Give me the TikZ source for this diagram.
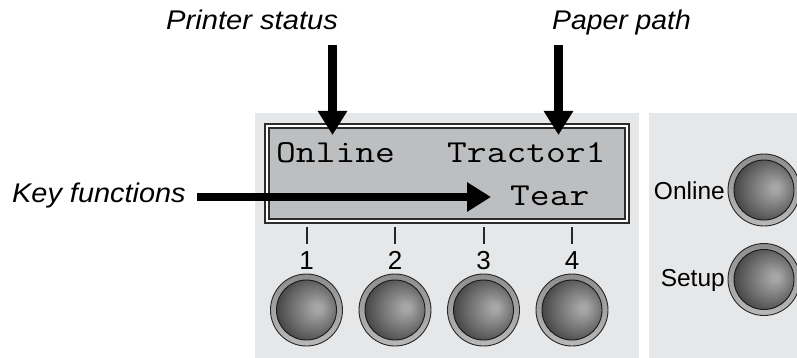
\documentclass[tikz,border=0pt]{standalone}
\usepackage{fontspec}
\setmainfont{Liberation Sans}
\usetikzlibrary{arrows.meta}
\definecolor{panel}{HTML}{E6E7E8}
\definecolor{lcdfill}{HTML}{BDBEC0}
\definecolor{hl}{HTML}{A6A6A6}
\definecolor{midg}{HTML}{6A6A6A}
\definecolor{edgeg}{HTML}{2C2C2C}
\definecolor{ringlo}{HTML}{B8B8B8}
\definecolor{ringhi}{HTML}{8E8E8E}
\pgfdeclareradialshading{btnshade}{\pgfpoint{10bp}{2bp}}{color(0bp)=(hl); color(3bp)=(hl); color(20bp)=(midg); color(36bp)=(edgeg); color(50bp)=(edgeg)}
\newcommand\keybtn[2]{%
  \node[ring] (#1) at (#2) {};
  \shadedraw[shading=btnshade, draw=black!90, line width=0.9pt] (#1.center) circle (30pt);
}
\begin{document}
\begin{tikzpicture}[x=1pt,y=-1pt,
  lbl/.style={font=\fontsize{27}{32}\selectfont\itshape, inner sep=0, anchor=base west},
  side/.style={font=\fontsize{24.5}{29}\selectfont, inner sep=0, anchor=base east},
  num/.style={font=\fontsize{26}{30}\selectfont, inner sep=0, anchor=base},
  lcdtxt/.style={font=\fontsize{32}{38}\ttfamily, inner sep=0, anchor=base west},
  bigarrow/.style={line width=8.5pt, -{Triangle[width=28pt,length=24pt]}},
  tickmark/.style={line width=2pt, black!85},
  ring/.style={circle, minimum size=72pt, inner sep=0, draw=black!85, line width=0.9pt, top color=ringhi, bottom color=ringlo},
]
\useasboundingbox (0,0) rectangle (797,358);
% panels
\fill[panel] (255,113) rectangle (639,358);
\fill[panel] (649,113) rectangle (797,358);
% LCD
\draw[edgeg, line width=1.3pt, fill=white] (265,124) rectangle (629,223);
\draw[edgeg, line width=1.3pt, fill=lcdfill] (269,128) rectangle (625,219);
\node[lcdtxt] (on) at (276,163) {\scalebox{1.2}[1]{Online}};
\node[lcdtxt] (tr) at (447,163) {\scalebox{1.2}[1]{Tractor1}};
\node[lcdtxt] (te) at (510,205) {\scalebox{1.2}[1]{Tear}};
% labels
\node[lbl] (ps) at (166,30) {\scalebox{1.08}[1]{Printer status}};
\node[lbl] (pp) at (552,30) {\scalebox{1.05}[1]{Paper path}};
\node[lbl] (kf) at (12,202) {\scalebox{1.07}[1]{Key functions}};
% arrows
\coordinate (ps-s) at (332.5,45);
\coordinate (ps-t) at (332.5,135);
\coordinate (pp-s) at (558.5,45);
\coordinate (pp-t) at (558.5,135);
\coordinate (kf-s) at (197,197);
\coordinate (kf-t) at (491,197);
\draw[bigarrow] (ps-s) -- (ps-t);
\draw[bigarrow] (pp-s) -- (pp-t);
\draw[bigarrow] (kf-s) -- (kf-t);
% keys 1-4
\foreach \i/\x in {1/306.5,2/395,3/483.5,4/572}{
  \draw[tickmark] (\x,227) -- (\x,244);
  \node[num] (n\i) at (\x,269) {\i};
  \keybtn{b\i}{\x,310}
}
% right panel
\node[side] (lon) at (725,200) {Online};
\node[side] (lsu) at (725,286) {Setup};
\keybtn{bon}{764,190}
\keybtn{bsu}{764,279.5}
\end{tikzpicture}
\end{document}
